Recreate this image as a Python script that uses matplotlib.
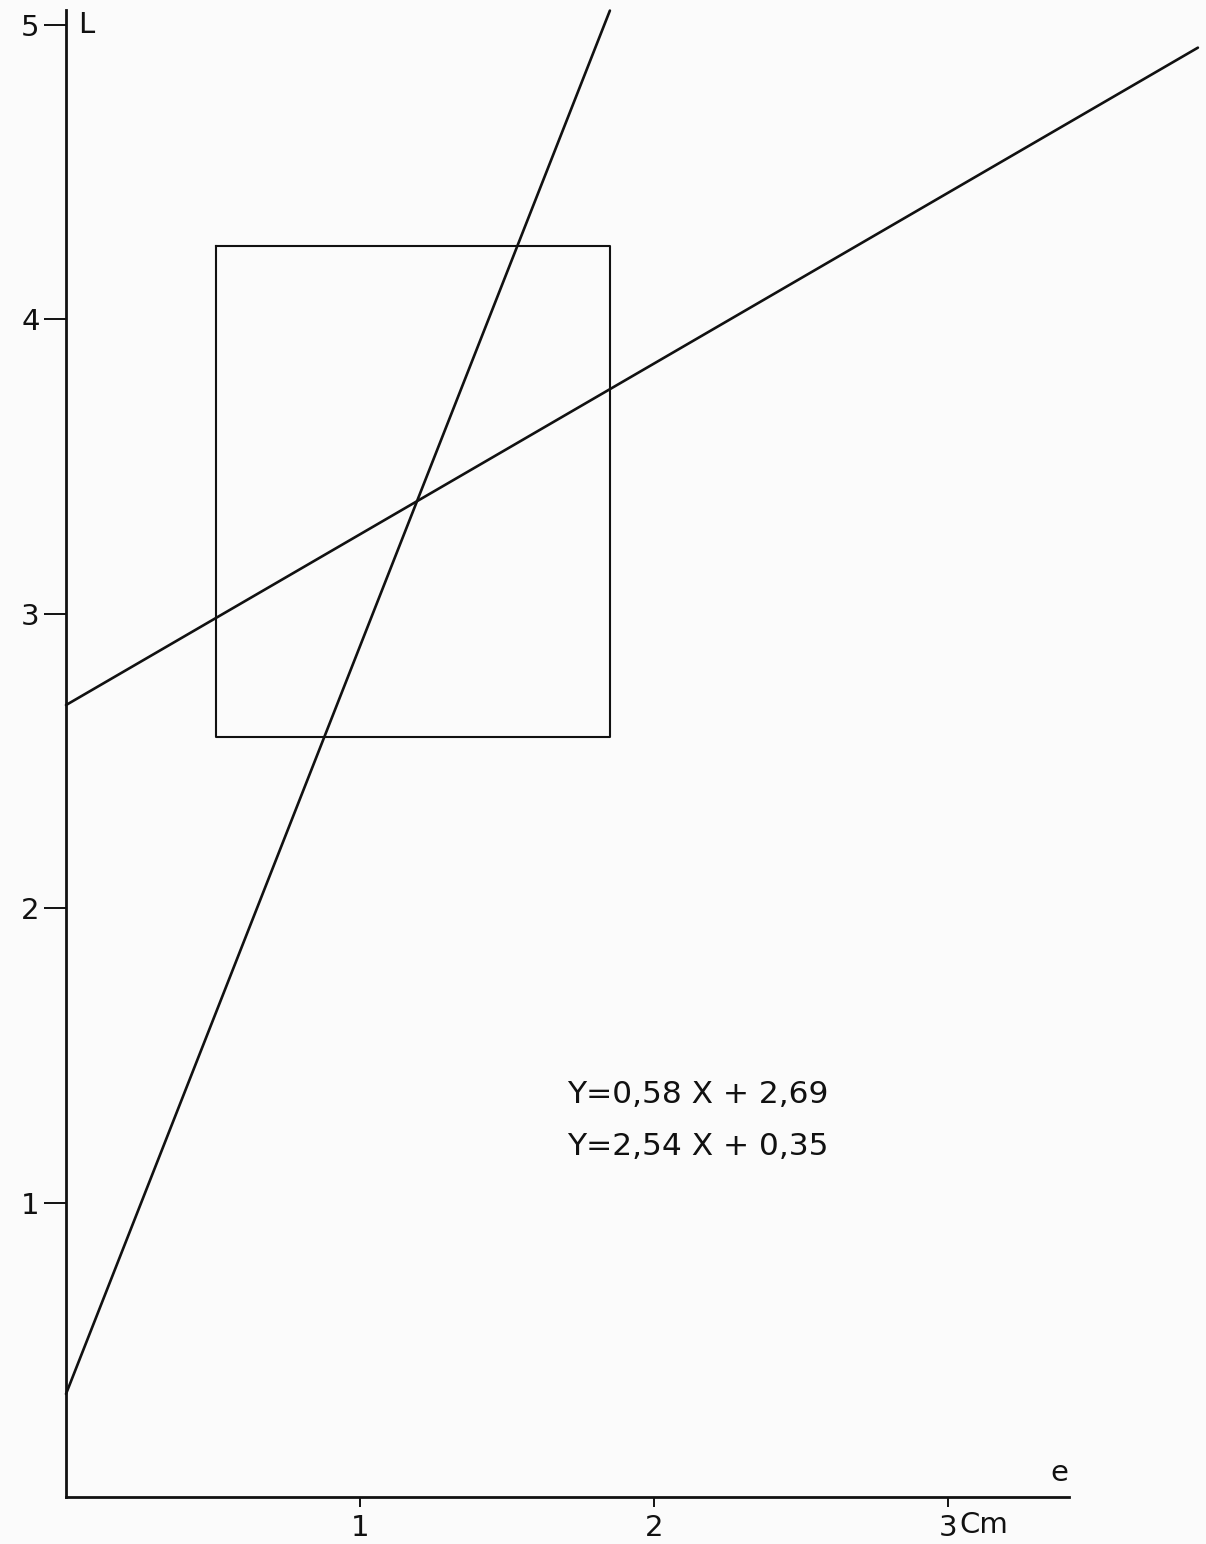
import matplotlib.pyplot as plt
import numpy as np

# Regression lines L = a*e + b
line_slopes = [0.58, 2.54]
line_intercepts = [2.69, 0.35]
line_x_end = [3.85, 1.85]
equation_labels = ["Y=0,58 X + 2,69", "Y=2,54 X + 0,35"]

# Frame drawn around the intersection region
rect_x = [0.51, 1.85]
rect_y = [2.58, 4.25]

y_ticks = [1, 2, 3, 4, 5]
x_ticks = [1, 2, 3]
x_tick_labels = ["1", "2", "3"]

plt.rcParams['font.family'] = ['DejaVu Sans']

fig = plt.figure(figsize=(12.06, 15.44), dpi=100)
fig.patch.set_facecolor("#fbfbfb")
ax = fig.add_axes([0, 0, 1, 1])
ax.set_facecolor("#fbfbfb")
ax.set_xlim(-66 / 294, 1140 / 294)
ax.set_ylim(-47 / 294.4, 1497 / 294.4)

ink = "#111111"

# Axes drawn as spines through the origin
for side in ("top", "right"):
    ax.spines[side].set_visible(False)
ax.spines["left"].set_position(("data", 0))
ax.spines["bottom"].set_position(("data", 0))
ax.spines["left"].set_bounds(0, 5.05)
ax.spines["bottom"].set_bounds(0, 3.41)
for side in ("left", "bottom"):
    ax.spines[side].set_linewidth(2.0)
    ax.spines[side].set_color(ink)

ax.set_yticks(y_ticks)
ax.set_yticklabels([str(t) for t in y_ticks])
ax.set_xticks(x_ticks)
ax.set_xticklabels(x_tick_labels)
ax.tick_params(axis="y", direction="out", length=16, width=1.4, pad=3,
               labelsize=21, colors=ink)
ax.tick_params(axis="x", direction="out", length=7, width=1.4, pad=5,
               labelsize=21, colors=ink)

# Regression lines
for a, b, xe in zip(line_slopes, line_intercepts, line_x_end):
    xs = np.array([0.0, xe])
    ax.plot(xs, a * xs + b, color=ink, lw=1.9, solid_capstyle="round")

# Rectangle frame
ax.plot([rect_x[0], rect_x[1], rect_x[1], rect_x[0], rect_x[0]],
        [rect_y[1], rect_y[1], rect_y[0], rect_y[0], rect_y[1]],
        color=ink, lw=1.5)

# Axis names and unit
ax.text(0.04, 5.0, "L", fontsize=21, ha="left", va="center", color=ink)
ax.text(3.38, 0.08, "e", fontsize=21, ha="center", va="center", color=ink)
ax.text(3.037, -0.095, "Cm", fontsize=21, ha="left", va="center", color=ink)

# Equations
ax.text(1.704, 1.366, equation_labels[0], fontsize=22.5, ha="left",
        va="center", color=ink)
ax.text(1.704, 1.192, equation_labels[1], fontsize=22.5, ha="left",
        va="center", color=ink)

fig.savefig("out.png", dpi=100, facecolor=fig.get_facecolor())
